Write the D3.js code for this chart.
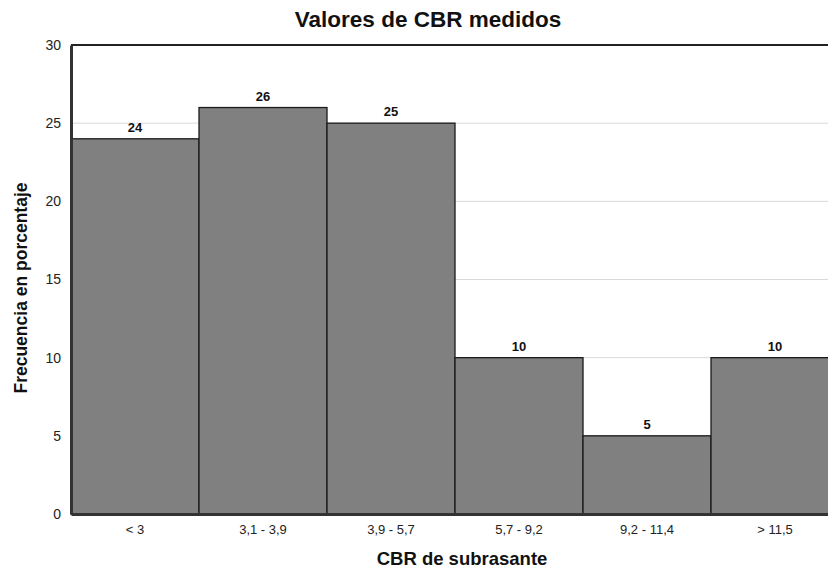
<!DOCTYPE html>
<html><head><meta charset="utf-8">
<script src="https://cdn.jsdelivr.net/npm/d3@7"></script>
<style>body{margin:0;background:#fff;overflow:hidden}svg{display:block;font-family:"Liberation Sans",Arial,sans-serif}</style>
</head><body><svg id="c" width="828" height="569"></svg>
<script>
const categories = ["< 3", "3,1 - 3,9", "3,9 - 5,7", "5,7 - 9,2", "9,2 - 11,4", "> 11,5"];
const values = [24, 26, 25, 10, 5, 10];
const yTicks = [0, 5, 10, 15, 20, 25, 30];

const svg = d3.select("#c");
const L = 71, R = 839, T = 45, B = 514;
const x = d3.scaleBand().domain(categories).range([L, R]).padding(0);
const y = d3.scaleLinear().domain([0, 30]).range([B, T]);

// gridlines
svg.append("g").selectAll("line").data(yTicks.filter(d => d > 0 && d < 30)).join("line")
  .attr("x1", L).attr("x2", R).attr("y1", d => y(d)).attr("y2", d => y(d))
  .attr("stroke", "#d9d9d9").attr("stroke-width", 1);

// bars
svg.append("g").selectAll("rect").data(values).join("rect")
  .attr("x", (d, i) => x(categories[i])).attr("width", x.bandwidth())
  .attr("y", d => y(d)).attr("height", d => B - y(d))
  .attr("fill", "#808080").attr("stroke", "#1a1a1a").attr("stroke-width", 1.3);

// value labels
svg.append("g").selectAll("text").data(values).join("text")
  .attr("x", (d, i) => x(categories[i]) + x.bandwidth() / 2)
  .attr("y", d => y(d) - 7)
  .attr("text-anchor", "middle").attr("font-size", 13).attr("font-weight", "bold").attr("fill", "#111")
  .text(d => d);

// top border
svg.append("line").attr("x1", L).attr("x2", R).attr("y1", T).attr("y2", T)
  .attr("stroke", "#222").attr("stroke-width", 2);

// y axis
const ya = svg.append("g").attr("transform", `translate(${L},0)`)
  .call(d3.axisLeft(y).tickValues(yTicks).tickSize(0).tickPadding(10));
ya.select(".domain").attr("stroke", "#333").attr("stroke-width", 3);
ya.selectAll("text").attr("font-size", 14).attr("fill", "#222").style("font-family", '"Liberation Sans",Arial,sans-serif');

// x axis
const xa = svg.append("g").attr("transform", `translate(0,${B})`)
  .call(d3.axisBottom(x).tickSize(0).tickPadding(11));
xa.select(".domain").attr("stroke", "#333").attr("stroke-width", 3);
xa.selectAll("text").attr("font-size", 13).attr("fill", "#222").style("font-family", '"Liberation Sans",Arial,sans-serif');

// titles
svg.append("text").attr("x", 428).attr("y", 27).attr("text-anchor", "middle")
  .attr("font-size", 22.5).attr("font-weight", "bold").attr("fill", "#111").text("Valores de CBR medidos");
svg.append("text").attr("x", 462).attr("y", 565).attr("text-anchor", "middle")
  .attr("font-size", 18.5).attr("font-weight", "bold").attr("fill", "#111").text("CBR de subrasante");
svg.append("text").attr("transform", "translate(27,288) rotate(-90)").attr("text-anchor", "middle")
  .attr("font-size", 17.5).attr("font-weight", "bold").attr("fill", "#111").text("Frecuencia en porcentaje");
</script></body></html>
